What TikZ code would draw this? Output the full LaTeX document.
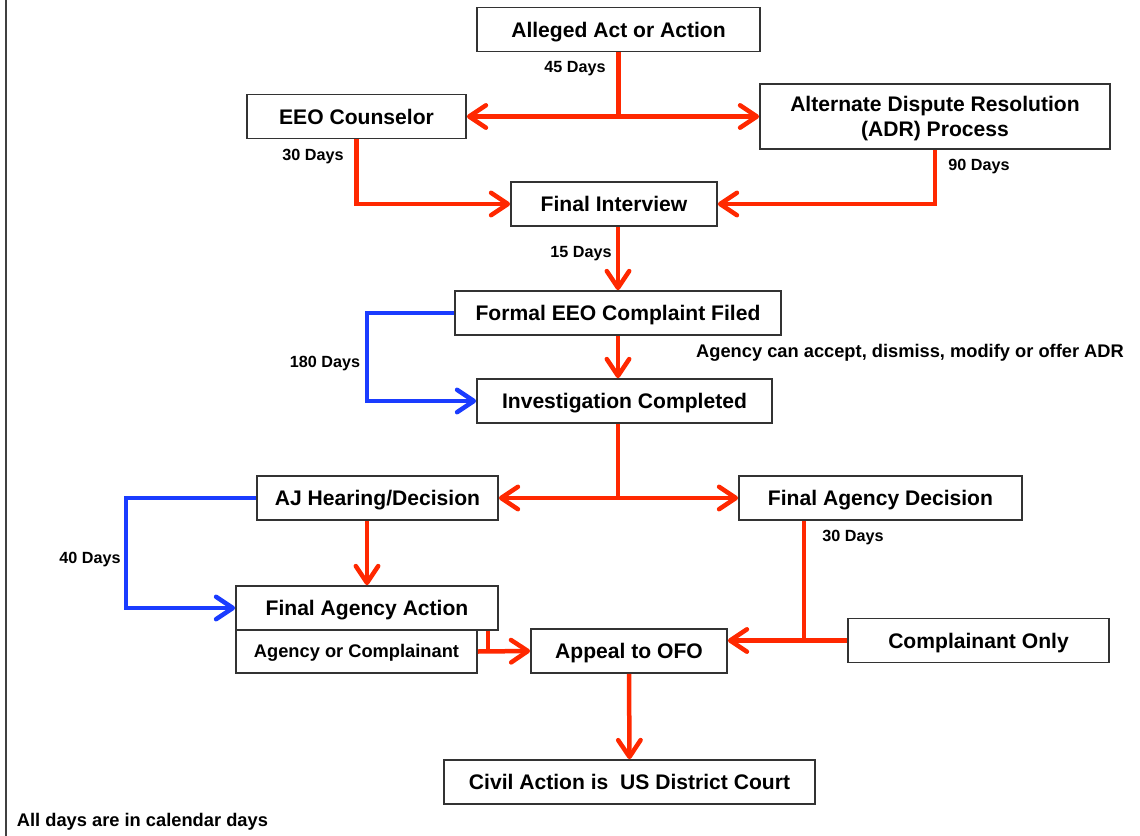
\documentclass[tikz,border=0pt]{standalone}
\usepackage{fontspec}
\setmainfont{Liberation Sans}
\usetikzlibrary{arrows.meta}
\usetikzlibrary{positioning}
\definecolor{eeored}{RGB}{255,40,0}
\definecolor{eeoblue}{RGB}{26,60,255}

\begin{document}
\begin{tikzpicture}[
    x=0.025cm, y=-0.025cm,
    font=\bfseries\fontsize{15}{18}\selectfont
]
\tikzset{
    box/.style = {rectangle, draw=black!80, line width=1.2pt, align=center, minimum height=1.1cm, inner sep=2pt, text height=13pt, text depth=2pt},
    box2/.style = {rectangle, draw=black!80, line width=1.2pt, align=center, inner sep=2pt, text depth=0pt},
    smalltext/.style = {font=\bfseries\fontsize{11.5}{13}\selectfont},
    note/.style = {font=\bfseries\fontsize{13}{15}\selectfont},
    redline/.style = {line width=3.2pt, draw=eeored},
    redarrow/.style = {redline, -{Straight Barb[round,length=0.42cm,width=0.56cm]}},
    bluearrow/.style = {line width=3.2pt, draw=eeoblue, -{Straight Barb[round,length=0.42cm,width=0.56cm]}}
}
\useasboundingbox (0,0) rectangle (1140,836);
\draw[line width=1.5pt, black!75] (6,0) -- (6,836);
\node[box, minimum width=7.075cm] at (618.5,29.5) (act) {Alleged Act or Action};
\node[box, minimum width=5.475cm] at (356.5,116.5) (eeo) {EEO Counselor};
\node[box2, minimum width=8.75cm, minimum height=1.625cm] at (935,116.5) (adr) {Alternate Dispute Resolution\\(ADR) Process};
\node[box, minimum width=5.15cm] at (614,204) (fint) {Final Interview};
\node[box, minimum width=8.15cm] at (618,313) (formal) {Formal EEO Complaint Filed};
\node[box, minimum width=7.375cm] at (624.5,401) (inv) {Investigation Completed};
\node[box, minimum width=6.025cm] at (377.5,498) (aj) {AJ Hearing/Decision};
\node[box, minimum width=7.075cm] at (880.5,498) (fad) {Final Agency Decision};
\node[box, minimum width=6.55cm] at (367,608) (faa) {Final Agency Action};
\node[box, note, minimum width=6.025cm, minimum height=1.075cm, text height=11pt] at (356.5,651.5) (aoc) {Agency or Complainant};
\node[box, minimum width=4.9cm] at (629,651) (ofo) {Appeal to OFO};
\node[box, minimum width=6.525cm] at (978.5,640.5) (conly) {Complainant Only};
\node[box, minimum width=9.275cm] at (629.5,782) (civil) {Civil Action is\ \ US District Court};
% day labels
\node[smalltext] at (575,69) (d45) {45 Days};
\node[smalltext] at (313,157) (d30a) {30 Days};
\node[smalltext] at (979,167) (d90) {90 Days};
\node[smalltext] at (581,254) (d15) {15 Days};
\node[smalltext] at (325,364) (d180) {180 Days};
\node[smalltext] at (90,560) (d40) {40 Days};
\node[smalltext] at (853,538) (d30b) {30 Days};
\node[note] at (910,353) (agency) {Agency can accept, dismiss, modify or offer ADR};
\node[note, anchor=west] at (12,822) (calnote) {All days are in calendar days};
% junctions
\coordinate (j1) at (act.south |- eeo.east);
\coordinate (j2) at (formal.south |- aj.east);
\coordinate (j3) at (804,640.5);
\coordinate (j4) at (488,651.5);
\draw[redline] (act.south) -- (j1);
\draw[redarrow] (j1) -- (eeo.east);
\draw[redarrow] (j1) -- (adr.west);
\draw[redarrow] (eeo.south) |- (fint.west);
\draw[redarrow] (adr.south) |- (fint.east);
\draw[redarrow] (formal.north |- fint.south) -- (formal.north);
\draw[redarrow] (formal.south) -- (formal.south |- inv.north);
\draw[bluearrow] (formal.west) -- ++(-87,0) |- (inv.west);
\draw[redline] (inv.south -| j2) -- (j2);
\draw[redarrow] (j2) -- (aj.east);
\draw[redarrow] (j2) -- (fad.west);
\draw[bluearrow] (aj.west) -- ++(-130,0) |- (faa.west);
\draw[redarrow] (aj.south -| faa.north) -- (faa.north);
\draw[redline] (fad.south -| j3) -- (j3);
\draw[redline] (conly.west) -- (j3);
\draw[redarrow] (j3) -- (ofo.east |- j3);
\draw[redline] (faa.south -| j4) -- (j4);
\draw[redarrow] (aoc.east) -- (ofo.west);
\draw[redarrow] (ofo.south) -- (civil.north);
\end{tikzpicture}
\end{document}
